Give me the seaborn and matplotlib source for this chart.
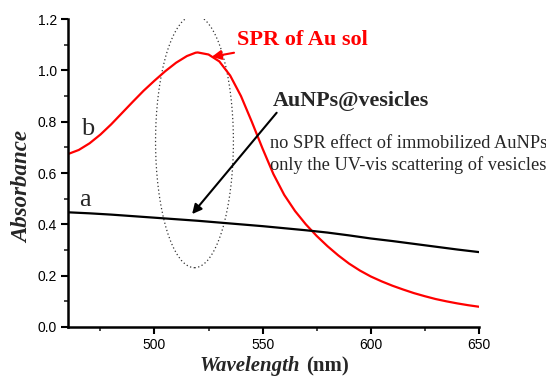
import matplotlib
matplotlib.use("Agg")
import matplotlib.pyplot as plt
import seaborn as sns
import pandas as pd
from matplotlib.patches import Ellipse
from matplotlib.offsetbox import TextArea, HPacker, AnchoredOffsetbox

# ---- data ----
wl_b = [460, 465, 470, 475, 480, 485, 490, 495, 500, 505, 510, 515, 519, 520,
        525, 530, 535, 540, 545, 550, 555, 560, 565, 570, 575, 580, 585, 590,
        595, 600, 605, 610, 615, 620, 625, 630, 635, 640, 645, 650]
abs_b = [0.674, 0.690, 0.716, 0.750, 0.790, 0.834, 0.878, 0.921, 0.960, 0.997,
         1.030, 1.056, 1.069, 1.070, 1.062, 1.035, 0.980, 0.900, 0.800, 0.695,
         0.596, 0.515, 0.452, 0.400, 0.355, 0.315, 0.279, 0.247, 0.220, 0.197,
         0.178, 0.161, 0.146, 0.132, 0.120, 0.109, 0.100, 0.092, 0.085, 0.079]
wl_a = [460, 470, 480, 490, 500, 510, 520, 530, 540, 550, 560, 570, 580, 590,
        600, 610, 620, 630, 640, 650]
abs_a = [0.447, 0.443, 0.438, 0.432, 0.426, 0.420, 0.414, 0.407, 0.400, 0.393,
         0.385, 0.377, 0.368, 0.357, 0.345, 0.335, 0.324, 0.313, 0.302, 0.292]
x_ticks = [500, 550, 600, 650]
y_ticks = [0.0, 0.2, 0.4, 0.6, 0.8, 1.0, 1.2]

df_b = pd.DataFrame({"wl": wl_b, "abs": abs_b})
df_a = pd.DataFrame({"wl": wl_a, "abs": abs_a})

sns.set_theme(style="ticks")
plt.rcParams["font.family"] = ["Liberation Sans", "DejaVu Sans"]
SERIF = ["Liberation Serif", "DejaVu Serif"]

fig = plt.figure(figsize=(5.46, 3.82), dpi=100)
ax = fig.add_axes([0.1245, 0.144, 0.7525, 0.806])

sns.lineplot(data=df_b, x="wl", y="abs", color="#ff0000", linewidth=1.6, ax=ax)
sns.lineplot(data=df_a, x="wl", y="abs", color="black", linewidth=1.6, ax=ax)

ax.set_xlim(460, 650)
ax.set_ylim(0, 1.2)
ax.set_xticks(x_ticks)
ax.set_yticks(y_ticks)
ax.set_xticks([475, 525, 575, 625], minor=True)
ax.set_yticks([0.1, 0.3, 0.5, 0.7, 0.9, 1.1], minor=True)
ax.set_yticklabels([f"{v:.1f}" for v in y_ticks])
ax.tick_params(axis="both", which="major", direction="out", length=5, width=1.5,
               labelsize=10, colors="black", pad=3)
ax.tick_params(axis="both", which="minor", direction="out", length=3, width=1.2)
for s in ["top", "right"]:
    ax.spines[s].set_visible(False)
for s in ["left", "bottom"]:
    ax.spines[s].set_linewidth(1.8)
    ax.spines[s].set_color("black")

ax.set_xlabel("")
ax.set_ylabel("Absorbance", family=SERIF, fontweight="bold", style="italic",
              fontsize=16.5)
ax.yaxis.set_label_coords(-0.085, 0.455)

# x label: italic bold "Wavelength" + bold "(nm)"
t1 = TextArea("Wavelength", textprops=dict(family=SERIF, fontweight="bold",
                                            style="italic", fontsize=15))
t2 = TextArea("(nm)", textprops=dict(family=SERIF, fontweight="bold", fontsize=15))
box = HPacker(children=[t1, t2], align="baseline", pad=0, sep=4)
anch = AnchoredOffsetbox(loc="center", child=box, frameon=False,
                         bbox_to_anchor=(274 / 546, 1 - 366 / 382),
                         bbox_transform=fig.transFigure, borderpad=0)
fig.add_artist(anch)

# dotted ellipse
ell = Ellipse((518.5, 0.723), 36, 0.984, fill=False, linestyle=(0, (1, 2)),
              linewidth=0.9, edgecolor="#333333")
ax.add_patch(ell)

# labels a, b
ax.text(469, 0.771, "b", family=SERIF, fontsize=19, ha="center", va="center")
ax.text(468, 0.495, "a", family=SERIF, fontsize=19, ha="center", va="center")

# SPR annotation
ax.annotate("SPR of Au sol", xy=(526.5, 1.053), xytext=(538.3, 1.118),
            family=SERIF, fontweight="bold", fontsize=16, color="#ff0000",
            ha="left", va="center",
            arrowprops=dict(arrowstyle="-|>", color="#ff0000", lw=1.5,
                            mutation_scale=14, shrinkA=0, shrinkB=0))

ax.text(554.8, 0.880, "AuNPs@vesicles", family=SERIF, fontweight="bold",
        fontsize=15.8, ha="left", va="center")
ax.annotate("", xy=(517.4, 0.440), xytext=(556.5, 0.835),
            arrowprops=dict(arrowstyle="-|>", color="black", lw=1.5,
                            mutation_scale=14, shrinkA=0, shrinkB=0))

ax.text(553.5, 0.717, "no SPR effect of immobilized AuNPs", family=SERIF,
        fontsize=13.2, ha="left", va="center", clip_on=False)
ax.text(553.2, 0.631, "only the UV-vis scattering of vesicles", family=SERIF,
        fontsize=13.2, ha="left", va="center", clip_on=False)

fig.savefig("out.png", dpi=100)
